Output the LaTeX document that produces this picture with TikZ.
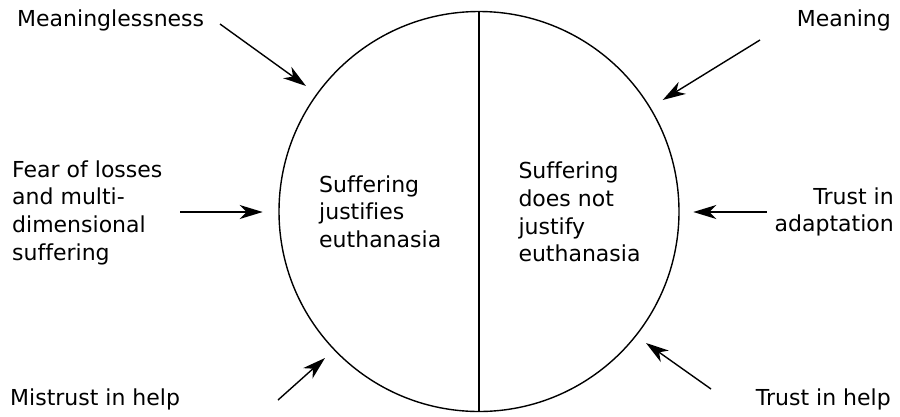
\documentclass[tikz,border=0pt]{standalone}
\usepackage{fontspec}
\setmainfont[Ligatures=NoCommon]{DejaVu Sans}
\usetikzlibrary{arrows.meta}
\begin{document}
\begin{tikzpicture}[x=1pt,y=-1pt,
  lbl/.style={inner sep=0pt,font=\fontsize{22pt}{27.6pt}\selectfont},
  conn/.style={line width=1.4pt,-{Stealth[length=23pt,width=14pt,inset=7pt]}}]
\useasboundingbox (0,0) rectangle (900,416);
\node[circle,draw,line width=1.4pt,minimum size=400pt,inner sep=0pt] (c) at (479,211.5) {};
\draw[line width=1.4pt] (c.north) -- (c.south);
% texts
\node[lbl,anchor=base west] (t1) at (17,26.7) {Meaninglessness};
\node[lbl,anchor=base east] (t2) at (891,26.7) {Meaning};
\node[lbl,anchor=base west,align=left] (t3) at (12,260) {Fear of losses\\and multi-\\dimensional\\suffering};
\node[lbl,anchor=base east,align=right] (t4) at (894,231.7) {Trust in\\adaptation};
\node[lbl,anchor=base west] (t5) at (10,405) {Mistrust in help};
\node[lbl,anchor=base east] (t6) at (891,405) {Trust in help};
\node[lbl,anchor=base west,align=left] (l) at (319,247.3) {Suffering\\justifies\\euthanasia};
\node[lbl,anchor=base west,align=left] (r) at (518.3,261.7) {Suffering\\does not\\justify\\euthanasia};
% arrow ends
\coordinate (s1) at (220,24);    \coordinate (e1) at (306,86);
\coordinate (s2) at (760,40);    \coordinate (e2) at (662.7,100);
\coordinate (s3) at (180,212);   \coordinate (e3) at (262.7,212);
\coordinate (s4) at (766.7,212); \coordinate (e4) at (693.3,212);
\coordinate (s5) at (278,400);   \coordinate (e5) at (325,358);
\coordinate (s6) at (711,389);   \coordinate (e6) at (646,343);
\foreach \i in {1,...,6} \draw[conn] (s\i) -- (e\i);
\end{tikzpicture}
\end{document}
